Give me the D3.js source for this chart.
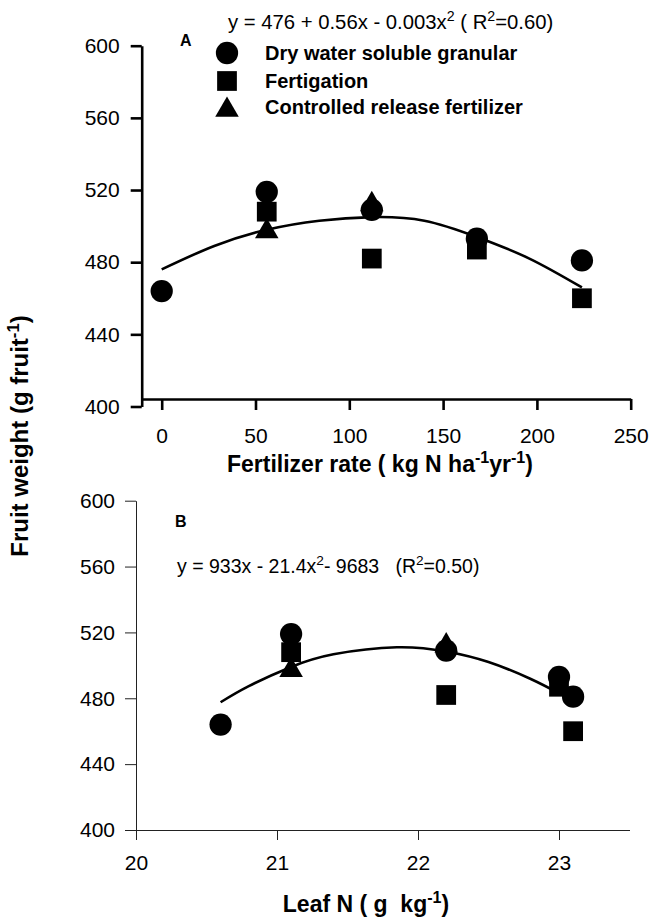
<!DOCTYPE html>
<html><head><meta charset="utf-8">
<script src="https://cdn.jsdelivr.net/npm/d3@7"></script>
<style>
html,body{margin:0;padding:0;background:#fff;}
svg text{font-family:"Liberation Sans",Arial,sans-serif;fill:#000;white-space:pre;}
</style></head><body>
<script>
// ---- data ----
const rates = [0, 56, 112, 168, 224];                 // kg N ha-1 yr-1
const leafN = [20.6, 21.1, 22.2, 23.0, 23.1];          // g kg-1
const dryGranular = [464, 519, 509, 493, 481];
const fertigation = [null, 508, 482, 487, 460];
const controlledRelease = [null, 497, 512, null, null];
const curveA_x = [0, 28, 56, 84, 112, 140, 168, 196, 224];
const curveA_y = [476, 489, 498, 503, 505, 503, 494, 482, 466];
const curveB_x = [20.6, 20.8, 21.1, 21.4, 21.85, 22.2, 22.5, 22.8, 23.0];
const curveB_y = [477.6, 487.4, 499, 506.7, 511, 508.4, 502, 491.7, 483];
const yTicks = [400, 440, 480, 520, 560, 600];
const xTicksA = [0, 50, 100, 150, 200, 250];
const xTicksB = [20, 21, 22, 23];
const legendLabels = ["Dry water soluble granular", "Fertigation", "Controlled release fertilizer"];

const W = 651, H = 924;
const svg = d3.select("body").append("svg").attr("width", W).attr("height", H);
svg.append("rect").attr("width", W).attr("height", H).attr("fill", "#fff");

const series = [
  {vals: dryGranular, type: d3.symbolCircle, size: 390},
  {vals: fertigation, type: d3.symbolSquare, size: 390},
  {vals: controlledRelease, type: d3.symbolTriangle, size: 240}
];

function sup(t, parts) {
  parts.forEach(([s, isSup], i) => {
    const ts = t.append("tspan").text(s);
    if (isSup) ts.attr("dy", "-0.55em").attr("font-size", "0.7em");
    else if (i > 0 && parts[i-1][1]) ts.attr("dy", "0.385em");
  });
}

// ---- Panel A ----
const xA = d3.scaleLinear().domain([-10.66, 250]).range([141.7, 630.7]);
const yA = d3.scaleLinear().domain([400, 600]).range([406.5, 45.7]);
const gA = svg.append("g");

const axA_y = gA.append("g").attr("transform", `translate(${xA(-10.66)},0)`)
  .call(d3.axisLeft(yA).tickValues(yTicks).tickSize(11).tickSizeOuter(0).tickPadding(11));
const axA_x = gA.append("g").attr("transform", `translate(0,${yA(400) - 7.5})`)
  .call(d3.axisBottom(xA).tickValues(xTicksA).tickSize(11).tickSizeOuter(0).tickPadding(18));
[axA_y, axA_x].forEach(a => {
  a.selectAll("path,line").attr("stroke", "#000").attr("stroke-width", 2.6);
  a.selectAll("text").attr("font-size", 21).attr("fill", "#000");
});

gA.append("path")
  .attr("d", d3.line().x((d, i) => xA(curveA_x[i])).y(d => yA(d)).curve(d3.curveNatural)(curveA_y))
  .attr("fill", "none").attr("stroke", "#000").attr("stroke-width", 2.6);

[2, 1, 0].forEach(si => {
  const s = series[si];
  gA.selectAll(null).data(rates.map((r, i) => ({x: r, y: s.vals[i]})).filter(d => d.y != null))
    .enter().append("path")
    .attr("d", d3.symbol().type(s.type).size(s.size))
    .attr("transform", d => `translate(${xA(d.x)},${yA(d.y)})`)
    .attr("fill", "#000");
});

gA.append("text").attr("x", 180).attr("y", 46).attr("font-size", 16).attr("font-weight", "bold").text("A");
const eqA = gA.append("text").attr("x", 228).attr("y", 29).attr("font-size", 20.3);
sup(eqA, [["y = 476 + 0.56x - 0.003x", false], ["2", true], [" ( R", false], ["2", true], ["=0.60)", false]]);

const legY = [53, 81, 107];
series.forEach((s, i) => {
  gA.append("path").attr("d", d3.symbol().type(s.type).size(s.size))
    .attr("transform", `translate(227,${legY[i] + (i === 2 ? 3 : 0)})`).attr("fill", "#000");
  gA.append("text").attr("x", 265).attr("y", legY[i] + 7).attr("font-size", 20)
    .attr("font-weight", "bold").text(legendLabels[i]);
});

const tA = gA.append("text").attr("x", 380).attr("y", 472).attr("text-anchor", "middle")
  .attr("font-size", 23).attr("font-weight", "bold");
sup(tA, [["Fertilizer rate ( kg N ha", false], ["-1", true], ["yr", false], ["-1", true], [")", false]]);

// ---- Panel B ----
const xB = d3.scaleLinear().domain([20, 23.5]).range([136, 629.5]);
const yB = d3.scaleLinear().domain([400, 600]).range([830, 500.7]);
const gB = svg.append("g");

const axB_y = gB.append("g").attr("transform", `translate(${xB(20)},0)`)
  .call(d3.axisLeft(yB).tickValues(yTicks).tickSize(11).tickSizeOuter(0).tickPadding(10));
const axB_x = gB.append("g").attr("transform", `translate(0,${yB(400)})`)
  .call(d3.axisBottom(xB).tickValues(xTicksB).tickFormat(d3.format("d")).tickSize(10).tickSizeOuter(0).tickPadding(15));
[axB_y, axB_x].forEach(a => {
  a.selectAll("path,line").attr("stroke", "#222").attr("stroke-width", 1);
  a.selectAll("text").attr("font-size", 21).attr("fill", "#000");
});

gB.append("path")
  .attr("d", d3.line().x((d, i) => xB(curveB_x[i])).y(d => yB(d)).curve(d3.curveNatural)(curveB_y))
  .attr("fill", "none").attr("stroke", "#000").attr("stroke-width", 2.6);

[2, 1, 0].forEach(si => {
  const s = series[si];
  gB.selectAll(null).data(leafN.map((r, i) => ({x: r, y: s.vals[i]})).filter(d => d.y != null))
    .enter().append("path")
    .attr("d", d3.symbol().type(s.type).size(s.size))
    .attr("transform", d => `translate(${xB(d.x)},${yB(d.y)})`)
    .attr("fill", "#000");
});

gB.append("text").attr("x", 175).attr("y", 527).attr("font-size", 16).attr("font-weight", "bold").text("B");
const eqB = gB.append("text").attr("x", 177).attr("y", 573).attr("font-size", 19.5);
sup(eqB, [["y = 933x - 21.4x", false], ["2", true], ["- 9683   (R", false], ["2", true], ["=0.50)", false]]);

const tB = gB.append("text").attr("x", 366).attr("y", 912).attr("text-anchor", "middle")
  .attr("font-size", 23).attr("font-weight", "bold");
sup(tB, [["Leaf N ( g  kg", false], ["-1", true], [")", false]]);

// shared y title
const tY = svg.append("text").attr("transform", "translate(28,436) rotate(-90)")
  .attr("text-anchor", "middle").attr("font-size", 24).attr("font-weight", "bold");
sup(tY, [["Fruit weight (g fruit", false], ["-1", true], [")", false]]);
</script>
</body></html>
